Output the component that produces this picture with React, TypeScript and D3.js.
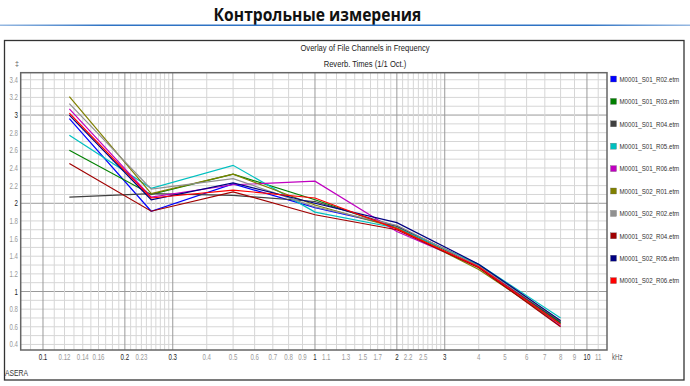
import React from "react";
import * as d3 from "d3";

// octave band centres, kHz
const freqs = [0.125, 0.25, 0.5, 1, 2, 4, 8];

const seriesNames = [
  "M0001_S01_R02.etm",
  "M0001_S01_R03.etm",
  "M0001_S01_R04.etm",
  "M0001_S01_R05.etm",
  "M0001_S01_R06.etm",
  "M0001_S02_R01.etm",
  "M0001_S02_R02.etm",
  "M0001_S02_R04.etm",
  "M0001_S02_R05.etm",
  "M0001_S02_R06.etm",
];

const seriesColors = [
  "#0000ff",
  "#008000",
  "#404040",
  "#00c0c0",
  "#c000c0",
  "#808000",
  "#909090",
  "#a00000",
  "#000080",
  "#ff0000",
];

// reverb times, s
const s01r02 = [2.96, 1.91, 2.22, 1.95, 1.74, 1.29, 0.64];
const s01r03 = [2.6, 2.1, 2.33, 2.04, 1.72, 1.3, 0.65];
const s01r04 = [2.07, 2.11, 2.09, 2.02, 1.74, 1.3, 0.66];
const s01r05 = [2.77, 2.17, 2.43, 1.9, 1.72, 1.31, 0.7];
const s01r06 = [3.07, 2.07, 2.21, 2.25, 1.68, 1.28, 0.61];
const s02r01 = [3.21, 2.11, 2.33, 1.98, 1.72, 1.25, 0.63];
const s02r02 = [3.13, 2.16, 2.28, 1.96, 1.75, 1.29, 0.67];
const s02r04 = [2.45, 1.91, 2.13, 1.87, 1.7, 1.27, 0.6];
const s02r05 = [3.0, 2.04, 2.23, 2.0, 1.78, 1.31, 0.67];
const s02r06 = [3.02, 2.06, 2.15, 2.06, 1.71, 1.28, 0.63];

const seriesValues = [s01r02, s01r03, s01r04, s01r05, s01r06, s02r01, s02r02, s02r04, s02r05, s02r06];

const xTickLabels = ["0.1", "0.12", "0.14", "0.16", "0.2", "0.23", "0.3", "0.4", "0.5", "0.6", "0.7", "0.8", "0.9", "1", "1.1", "1.3", "1.5", "1.7", "2", "2.2", "2.5", "3", "4", "5", "6", "7", "8", "9", "10", "11"];
const xMajor = ["0.1", "0.2", "0.3", "1", "2", "3", "10"];
const yTickLabels = ["0.4", "0.6", "0.8", "1", "1.2", "1.4", "1.6", "1.8", "2", "2.2", "2.4", "2.6", "2.8", "3", "3.2", "3.4"];
const yMajor = ["1", "2", "3"];

const W = 690;
const H = 386;
const plot = { left: 20.7, top: 72.7, right: 607, bottom: 350 };
const sans = "'Liberation Sans', Arial, sans-serif";

// vertical grid: fine below 0.3 and between 1 and 3, coarser elsewhere
const xGrid = [
  0.09,
  ...d3.range(10, 31).map((d) => d / 100),
  ...d3.range(4, 10).map((d) => d / 10),
  ...d3.range(10, 31).map((d) => d / 10),
  ...d3.range(4, 12),
];
const yGrid = d3.range(4, 35).map((d) => d / 10);

// squeezed text, the original uses a narrow face
function T(props: {
  x: number;
  y: number;
  sx?: number;
  size: number;
  fill?: string;
  anchor?: "start" | "middle" | "end";
  family?: string;
  weight?: string;
  children: React.ReactNode;
}) {
  const { x, y, sx = 0.78, size, fill = "#222", anchor = "start", family = sans, weight } = props;
  return (
    <text
      transform={`translate(${x},${y}) scale(${sx},1)`}
      fontFamily={family}
      fontSize={size}
      fontWeight={weight}
      fill={fill}
      textAnchor={anchor}
    >
      {props.children}
    </text>
  );
}

export default function App() {
  const x = d3.scaleLog().domain([0.0828, 11.85]).range([plot.left, plot.right]);
  const y = d3.scaleLinear().domain([0.337, 3.48]).range([plot.bottom, plot.top]);

  const line = d3
    .line<number>()
    .x((_, i) => x(freqs[i]))
    .y((d) => y(d));

  const isMajorX = (v: number) => xMajor.some((m) => Math.abs(+m - v) < 1e-6);
  const isMajorY = (v: number) => yMajor.some((m) => Math.abs(+m - v) < 1e-6);

  return (
    <svg
      width={W}
      height={H}
      style={{ position: "absolute", left: 0, top: 0, background: "#fff" }}
    >
      <defs>
        <linearGradient id="rule" x1="0" x2="1" y1="0" y2="0">
          <stop offset="0" stopColor="#2f73c4" stopOpacity={0.5} />
          <stop offset="0.15" stopColor="#2f73c4" />
          <stop offset="0.85" stopColor="#2f73c4" />
          <stop offset="1" stopColor="#2f73c4" stopOpacity={0.5} />
        </linearGradient>
      </defs>

      <T
        x={317.5}
        y={21}
        sx={0.92}
        size={17}
        anchor="middle"
        family="'Open Sans', 'Noto Sans', sans-serif"
        weight="bold"
        fill="#111"
      >
        Контрольные измерения
      </T>
      <rect x={0} y={24.5} width={W} height={1.5} fill="url(#rule)" />

      <rect x={4.5} y={40.5} width={679.5} height={339.5} fill="#fff" stroke="#333" strokeWidth={1.3} />

      <T x={365} y={51} size={9.5} anchor="middle" sx={0.8}>
        Overlay of File Channels in Frequency
      </T>
      <T x={365} y={67} size={9.5} anchor="middle" sx={0.8}>
        Reverb. Times (1/1 Oct.)
      </T>
      <T x={17} y={66} size={7} anchor="middle" fill="#555" sx={1}>
        ‡
      </T>

      {/* grid */}
      <g>
        {yGrid.map((v) => (
          <line
            key={"h" + v}
            x1={plot.left}
            x2={plot.right}
            y1={y(v)}
            y2={y(v)}
            stroke={isMajorY(v) ? "#9a9a9a" : "#d6d6d6"}
            strokeWidth={1}
          />
        ))}
        {xGrid.map((v) => (
          <line
            key={"v" + v}
            x1={x(v)}
            x2={x(v)}
            y1={plot.top}
            y2={plot.bottom}
            stroke={isMajorX(v) ? "#9a9a9a" : "#d6d6d6"}
            strokeWidth={1}
          />
        ))}
      </g>

      {/* series */}
      <g fill="none" strokeWidth={1.2}>
        {seriesValues.map((vals, i) => (
          <path key={seriesNames[i]} d={line(vals) || ""} stroke={seriesColors[i]} />
        ))}
      </g>

      <rect
        x={plot.left}
        y={plot.top}
        width={plot.right - plot.left}
        height={plot.bottom - plot.top}
        fill="none"
        stroke="#666"
        strokeWidth={1.5}
      />

      {/* axis labels */}
      {xTickLabels.map((t) => (
        <T
          key={"xt" + t}
          x={x(+t)}
          y={359.5}
          size={8.5}
          sx={0.72}
          anchor="middle"
          fill={isMajorX(+t) ? "#222" : "#999"}
        >
          {t}
        </T>
      ))}
      <T x={612} y={359.5} size={8.5} sx={0.72} fill="#555">
        kHz
      </T>
      {yTickLabels.map((t) => (
        <T
          key={"yt" + t}
          x={18}
          y={y(+t) + 3}
          size={8.5}
          sx={0.72}
          anchor="end"
          fill={isMajorY(+t) ? "#222" : "#999"}
        >
          {t}
        </T>
      ))}

      <T x={5} y={376} size={8.5} sx={0.8} fill="#333">
        ASERA
      </T>

      {/* legend */}
      {seriesNames.map((n, i) => {
        const cy = 79 + i * 22.4;
        return (
          <g key={"lg" + n}>
            <rect x={610.5} y={cy - 3} width={6} height={6} fill={seriesColors[i]} stroke="#666" strokeWidth={0.3} />
            <T x={619.5} y={cy + 2.7} size={7.5} sx={0.82} fill="#333">
              {n}
            </T>
          </g>
        );
      })}
    </svg>
  );
}
